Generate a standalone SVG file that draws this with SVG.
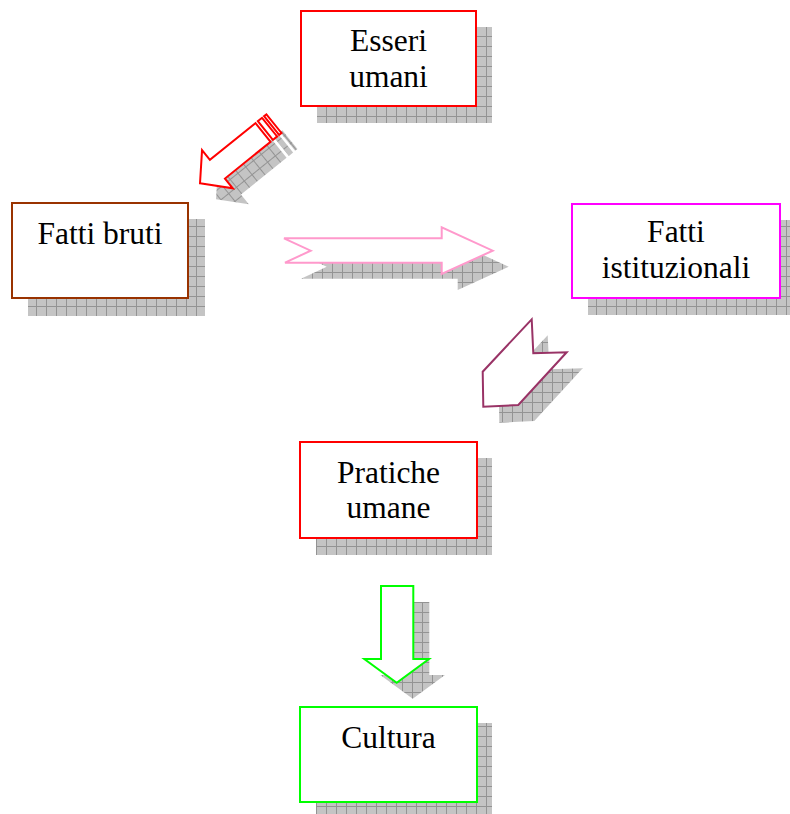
<svg xmlns="http://www.w3.org/2000/svg" width="790" height="814" viewBox="0 0 790 814">
  <defs>
    <pattern id="grid" patternUnits="userSpaceOnUse" width="10" height="10" x="6" y="6">
      <rect width="10" height="10" fill="#c4c4c4"/>
      <path d="M0 0.5H10M0.5 0V10" stroke="#939393" stroke-width="1" fill="none"/>
    </pattern>
  </defs>
  <style>
    .shadow { fill: url(#grid); stroke: none; }
    .box { fill: #ffffff; stroke-width: 2; }
    .arrow { fill: #ffffff; stroke-width: 2; stroke-linejoin: miter; }
    .lbl { font-family: "Liberation Serif", "Times New Roman", serif; font-size: 31.5px; fill: #000000; text-anchor: middle; }
  </style>
  <rect width="790" height="814" fill="#ffffff"/>

  <g id="connectors">
    <g id="arrow-esseri-fatti-bruti">
      <g transform="translate(216,199.3) rotate(141.1)" class="shadow">
        <polygon points="0,0 -22.4,-24.5 -22.4,-12 -81,-12 -81,12 -22.4,12 -22.4,24.5"/>
        <rect x="-89.4" y="-12" width="5.4" height="24"/>
        <rect x="-95" y="-12" width="3" height="24"/>
      </g>
      <g transform="translate(200,183.3) rotate(141.1)" class="arrow" stroke="#ff0000">
        <polygon points="0,0 -22.4,-24.5 -22.4,-12 -81,-12 -81,12 -22.4,12 -22.4,24.5"/>
        <rect x="-89.4" y="-12" width="5.4" height="24"/>
        <rect x="-95" y="-12" width="3" height="24"/>
      </g>
    </g>
    <g id="arrow-fatti-bruti-istituzionali">
      <polygon class="shadow" transform="translate(16,16)" points="284,238.3 441.7,238.3 441.7,227.3 492.7,250.7 441.7,274 441.7,262.7 285,262.7 310.7,250.7"/>
      <polygon class="arrow" stroke="#ff99cc" points="284,238.3 441.7,238.3 441.7,227.3 492.7,250.7 441.7,274 441.7,262.7 285,262.7 310.7,250.7"/>
    </g>
    <g id="arrow-istituzionali-pratiche">
      <polygon class="shadow" transform="translate(16,16)" points="531.7,319.3 533.3,353.3 566.7,352.3 518.3,405 483.3,406.7 482.7,371.7"/>
      <polygon class="arrow" stroke="#993366" points="531.7,319.3 533.3,353.3 566.7,352.3 518.3,405 483.3,406.7 482.7,371.7"/>
    </g>
    <g id="arrow-pratiche-cultura">
      <polygon class="shadow" transform="translate(16,16)" points="381,586 413.3,586 413.3,659 429,659 396.7,682.7 364.3,659 381,659"/>
      <polygon class="arrow" stroke="#00ff00" points="381,586 413.3,586 413.3,659 429,659 396.7,682.7 364.3,659 381,659"/>
    </g>
  </g>

  <g id="node-esseri-umani">
    <rect class="shadow" x="317" y="27" width="175" height="96"/>
    <rect class="box" stroke="#ff0000" x="301" y="11" width="175" height="95"/>
    <text class="lbl" x="388.5" y="51">Esseri</text>
    <text class="lbl" x="388.5" y="87">umani</text>
  </g>

  <g id="node-fatti-bruti">
    <rect class="shadow" x="28" y="219" width="177" height="97"/>
    <rect class="box" stroke="#993300" x="12" y="203" width="176" height="95"/>
    <text class="lbl" x="100" y="244">Fatti bruti</text>
  </g>

  <g id="node-fatti-istituzionali">
    <rect class="shadow" x="588" y="220" width="208" height="95"/>
    <rect class="box" stroke="#ff00ff" x="572" y="204" width="208" height="94"/>
    <text class="lbl" x="676" y="242">Fatti</text>
    <text class="lbl" x="676" y="278">istituzionali</text>
  </g>

  <g id="node-pratiche-umane">
    <rect class="shadow" x="316" y="458" width="176" height="97"/>
    <rect class="box" stroke="#ff0000" x="300" y="442" width="177" height="96"/>
    <text class="lbl" x="388.5" y="483">Pratiche</text>
    <text class="lbl" x="388.5" y="518">umane</text>
  </g>

  <g id="node-cultura">
    <rect class="shadow" x="316" y="723" width="176" height="91"/>
    <rect class="box" stroke="#00ff00" x="300" y="707" width="177" height="95"/>
    <text class="lbl" x="388.5" y="748">Cultura</text>
  </g>
</svg>
